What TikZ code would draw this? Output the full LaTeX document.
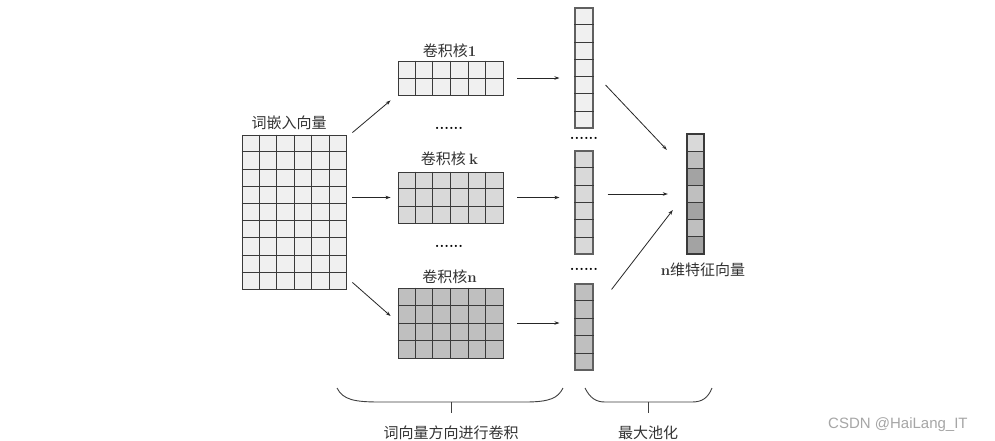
\documentclass[tikz,border=0pt]{standalone}
\usepackage{fontspec}
\newfontfamily\cjk{Noto Sans CJK SC}
\newfontfamily\wmfont{Liberation Sans}
\usetikzlibrary{calc,arrows.meta}
\definecolor{cA}{HTML}{F0F0F0}
\definecolor{cB}{HTML}{D9D9D9}
\definecolor{cC}{HTML}{BFBFBF}
\definecolor{cD}{HTML}{A3A3A3}
\definecolor{lineC}{HTML}{3A3A3A}
\definecolor{vecC}{HTML}{606060}
\definecolor{arrC}{HTML}{262626}
\tikzset{
  matbox/.style={draw=lineC, line width=0.9pt, rectangle, inner sep=0pt},
  vecbox/.style={draw=vecC, line width=1.1pt, rectangle, inner sep=0pt},
  gline/.style={draw=lineC, line width=0.9pt},
  vline/.style={draw=lineC, line width=1pt},
  conn/.style={draw=arrC, line width=0.8pt, -{Stealth[length=5pt,width=3.5pt]}},
  lbl/.style={font=\fontsize{15}{17}\selectfont\cjk, text=black!80, inner sep=0pt},
  dotsl/.style={font=\fontsize{15}{17}\selectfont\bfseries, inner sep=0pt},
  brace/.style={draw=black!75, line width=0.9pt},
}
\newcommand\myhsplit[4]{\foreach \i in {1,...,#3}{\draw[#4] ($(#1.north west)!\i/#2!(#1.south west)$) -- ($(#1.north east)!\i/#2!(#1.south east)$);}}
\newcommand\myvsplit[3]{\foreach \i in {1,...,#3}{\draw[gline] ($(#1.north west)!\i/#2!(#1.north east)$) -- ($(#1.south west)!\i/#2!(#1.south east)$);}}
\begin{document}
\begin{tikzpicture}[x=1pt,y=-1pt]
\useasboundingbox[fill=white] (0,0) rectangle (995,440);
% embedding matrix
\node[matbox, fill=cA, minimum width=104pt, minimum height=154pt] (emb) at (294,212) {};
\myvsplit{emb}{6}{5}\myhsplit{emb}{9}{8}{gline}
\node[lbl, anchor=base] (embl) at (289,128) {词嵌入向量};
% kernels
\node[matbox, fill=cA, minimum width=105pt, minimum height=34pt] (k1) at (450.5,78) {};
\myvsplit{k1}{6}{5}\myhsplit{k1}{2}{1}{gline}
\node[lbl, anchor=base] (k1l) at (449.5,56) {卷积核\textrm{\bfseries 1}};
\node[matbox, fill=cB, minimum width=105pt, minimum height=51pt] (kk) at (450.5,197.5) {};
\myvsplit{kk}{6}{5}\myhsplit{kk}{3}{2}{gline}
\node[lbl, anchor=base] (kkl) at (449.5,164) {卷积核 \textrm{\bfseries k}};
\node[matbox, fill=cC, minimum width=105pt, minimum height=70pt] (kn) at (450.5,323) {};
\myvsplit{kn}{6}{5}\myhsplit{kn}{4}{3}{gline}
\node[lbl, anchor=base] (knl) at (449.5,282) {卷积核\textrm{\bfseries n}};
\node[dotsl] (d1) at (449,128) {......};
\node[dotsl] (d2) at (449,246) {......};
% pooled vectors
\node[vecbox, fill=cA, minimum width=18pt, minimum height=120pt] (v1) at (584,68) {};
\myhsplit{v1}{7}{6}{vline}
\node[vecbox, fill=cB, minimum width=18pt, minimum height=103pt] (v2) at (584,202.5) {};
\myhsplit{v2}{6}{5}{vline}
\node[vecbox, fill=cC, minimum width=18pt, minimum height=86pt] (v3) at (584,327) {};
\myhsplit{v3}{5}{4}{vline}
\node[dotsl] (d3) at (584,138) {......};
\node[dotsl] (d4) at (584,269) {......};
% final vector
\foreach \k/\c in {1/cB,2/cC,3/cD,4/cC,5/cD,6/cC,7/cD}{
  \node[vecbox, draw=lineC, fill=\c, minimum width=17pt, minimum height=17.14pt] (f\k) at (695.5,{134+17.14*(\k-0.5)}) {};
}
\node[rectangle, inner sep=0pt, minimum width=17pt, minimum height=120pt] (fv) at (695.5,194) {};
\node[lbl, anchor=base] (fvl) at (703,275) {\textrm{\bfseries n}维特征向量};
% connectors
\draw[conn] ([shift={(6,-2)}]emb.north east) -- ([shift={(-7,5)}]k1.south west);
\draw[conn] ([xshift=6pt]emb.east |- kk.west) -- ([xshift=-7pt]kk.west);
\draw[conn] ([shift={(6,-7)}]emb.south east) -- ([shift={(-7,-7)}]kn.west);
\draw[conn] ([xshift=14pt]k1.east) -- ([xshift=-15pt]v1.west |- k1.east);
\draw[conn] ([xshift=14pt]kk.east) -- ([xshift=-15pt]v2.west |- kk.east);
\draw[conn] ([xshift=14pt]kn.east) -- ([xshift=-15pt]v3.west |- kn.east);
\draw[conn] ([shift={(12,17)}]v1.east) -- ([shift={(-20,16)}]fv.north west);
\draw[conn] ([xshift=14pt]v2.east |- fv.west) -- ([xshift=-19pt]fv.west);
\draw[conn] ([shift={(18,6)}]v3.north east) -- ([shift={(-14,16)}]fv.west);
% braces
\coordinate (b1s) at (337,388);
\coordinate (b1e) at (563,388);
\coordinate (b1m) at (451,402);
\coordinate (b2s) at (585,388);
\coordinate (b2e) at (712,388);
\coordinate (b2m) at (648,402);
\draw[brace] (b1s) .. controls (343,400) and (355,402) .. (380,402) -- (525,402) .. controls (550,402) and (558,398) .. (b1e);
\draw[brace] (b1m) -- ++(0,11);
\draw[brace] (b2s) .. controls (590,398) and (596,402) .. (605,402) -- (692,402) .. controls (702,402) and (708,398) .. (b2e);
\draw[brace] (b2m) -- ++(0,11);
\node[lbl, anchor=base] (bl1) at (451,438) {词向量方向进行卷积};
\node[lbl, anchor=base] (bl2) at (648,438) {最大池化};
% watermark
\node[font=\fontsize{15}{17}\selectfont\wmfont, text=black!35, anchor=base west, inner sep=0pt] (wm) at (828,428) {CSDN @HaiLang\_IT};
\end{tikzpicture}
\end{document}
